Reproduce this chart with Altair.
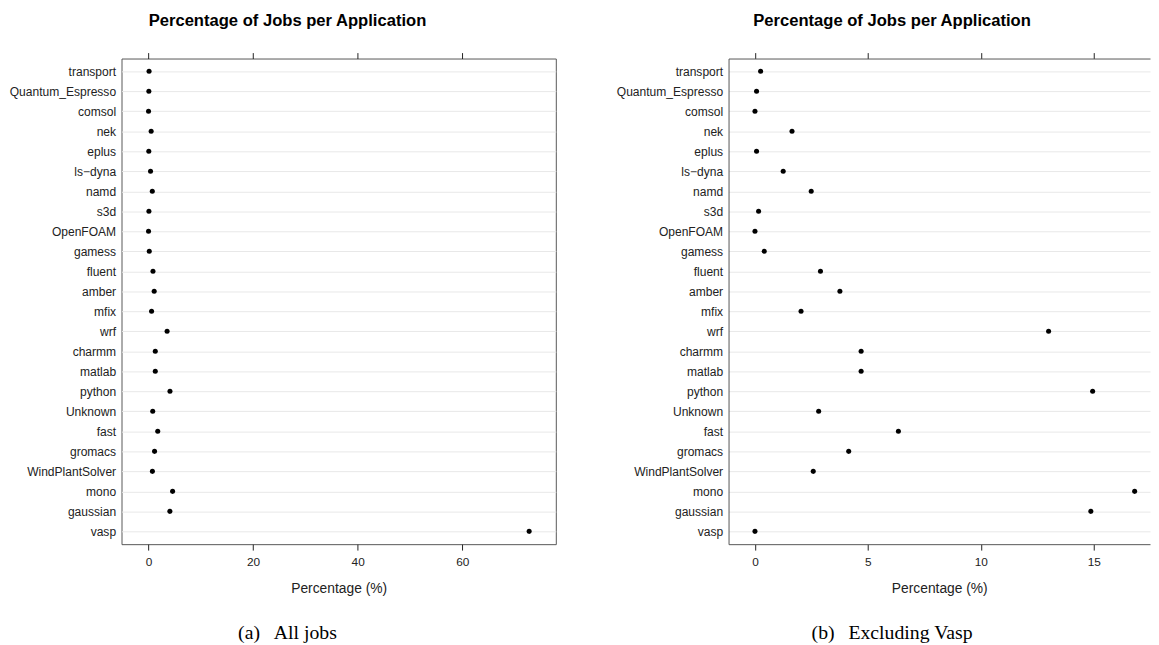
import altair as alt
import pandas as pd

apps = ["transport", "Quantum_Espresso", "comsol", "nek", "eplus", "ls\u2212dyna",
        "namd", "s3d", "OpenFOAM", "gamess", "fluent", "amber", "mfix", "wrf",
        "charmm", "matlab", "python", "Unknown", "fast", "gromacs",
        "WindPlantSolver", "mono", "gaussian", "vasp"]

pct_all = [0.10, 0.06, 0.0, 0.50, 0.05, 0.38, 0.72, 0.07, 0.0, 0.14, 0.85, 1.08,
           0.58, 3.55, 1.29, 1.29, 4.10, 0.80, 1.76, 1.15, 0.74, 4.60, 4.08, 72.8]

pct_novasp = [0.25, 0.07, 0.0, 1.64, 0.07, 1.25, 2.49, 0.16, 0.0, 0.41, 2.90, 3.76,
              2.04, 13.0, 4.70, 4.70, 14.95, 2.82, 6.35, 4.15, 2.58, 16.81, 14.87, 0.0]

ticks_all = [0, 20, 40, 60]
ticks_novasp = [0, 5, 10, 15]

TITLE = "Percentage of Jobs per Application"
SANS = "Liberation Sans"
SERIF = "Liberation Serif"
FRAME = "#555555"
TXT = "#222222"


def panel(values, domain, ticks, width, boxed, dx):
    df = pd.DataFrame({"app": apps, "pct": values})
    base = alt.Chart(df)
    yscale = alt.Scale(type="point", padding=0.64)
    y_axis = alt.Axis(title=None, ticks=False, labelPadding=6, labelFontSize=12.2,
                      labelFont=SANS, labelColor=TXT, grid=True,
                      gridColor="#e8e8e8", gridWidth=1,
                      domain=not boxed, domainColor=FRAME, domainWidth=1)
    yenc = alt.Y("app:N", sort=apps, scale=yscale, axis=y_axis)
    xscale = alt.Scale(domain=domain, nice=False, zero=False)
    pts = base.mark_circle(size=26, color="black", opacity=1).encode(
        x=alt.X("pct:Q", scale=xscale,
                axis=alt.Axis(values=ticks, orient="bottom", title="Percentage (%)",
                              grid=False, tickSize=6, tickColor=TXT, labelPadding=7,
                              labelFontSize=12, labelFont=SANS, labelColor=TXT,
                              titleFont=SANS, titleFontSize=14, titleFontWeight="normal",
                              titleColor=TXT, titlePadding=14,
                              domain=not boxed, domainColor=FRAME, domainWidth=1)),
        y=yenc,
    )
    top = base.mark_circle(size=26, opacity=0).encode(
        x=alt.X("pct:Q", scale=xscale,
                axis=alt.Axis(values=ticks, orient="top", labels=False, title=None,
                              grid=False, tickSize=6, tickColor=TXT,
                              domain=not boxed, domainColor=FRAME, domainWidth=1)),
        y=yenc,
    )
    view = (alt.ViewBackground(stroke=FRAME, strokeWidth=1) if boxed
            else alt.ViewBackground(stroke="transparent"))
    return alt.layer(top, pts).resolve_axis(x="independent").properties(
        width=width, height=492, view=view,
        title=alt.Title(TITLE, font=SANS, fontSize=16.8, fontWeight="bold",
                        color="black", offset=23, anchor="middle", frame="bounds",
                        dx=dx),
    )


left = alt.vconcat(
    panel(pct_all, [-5.17, 77.9], ticks_all, 440, True, 5),
    title=alt.Title("(a)\u2002\u2009All jobs", orient="bottom", font=SERIF,
                    fontSize=20, fontWeight="normal", color="black", offset=28,
                    anchor="middle", frame="bounds", dx=5),
)
right = alt.vconcat(
    panel(pct_novasp, [-1.17, 17.49], ticks_novasp, 427, False, 9),
    title=alt.Title("(b)\u2002\u2009Excluding Vasp", orient="bottom", font=SERIF,
                    fontSize=20, fontWeight="normal", color="black", offset=28,
                    anchor="middle", frame="bounds", dx=9),
)

chart = alt.hconcat(left, right, spacing=59).properties(
    padding={"left": 0, "top": 0, "right": 0, "bottom": 0}
).configure(font=SANS).configure_concat(spacing=59)

chart.save("out.html", embed_options={"renderer": "svg", "actions": False})
